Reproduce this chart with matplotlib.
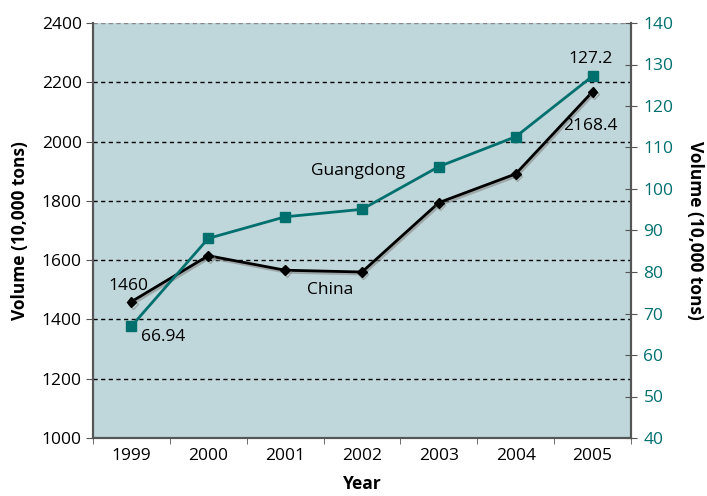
import numpy as np
import matplotlib.pyplot as plt
import matplotlib.patheffects as pe

plt.rcParams['font.family'] = ['Open Sans', 'DejaVu Sans']

# Data
years = ['1999', '2000', '2001', '2002', '2003', '2004', '2005']
china = [1460, 1615, 1566, 1560, 1794, 1891, 2168.4]
guangdong = [66.94, 88.1, 93.3, 95.1, 105.4, 112.6, 127.2]

teal = '#00706f'
bg = '#bfd6da'
spine = '#555555'
fs = 12.5

fig = plt.figure(figsize=(7.07, 4.96), dpi=100)
ax = fig.add_axes([93 / 707, 58 / 496, 538 / 707, 415 / 496])
ax2 = ax.twinx()

x = np.arange(len(years))
ax.set_facecolor(bg)

# grid lines at left ticks
for v in range(1200, 2401, 200):
    ax.axhline(v, color='black' if v < 2400 else '#888888', lw=1, ls=(0, (3, 2.5)), zorder=1)

ax.plot(x, china, color='black', lw=2, marker='D', ms=5, zorder=3,
        path_effects=[pe.SimpleLineShadow(offset=(1, -1.5), shadow_color='#888888', alpha=0.6),
                      pe.Normal()])
ax2.plot(x, guangdong, color=teal, lw=2, marker='s', ms=7, zorder=3)

ax.set_xlim(-0.5, len(years) - 0.5)
ax.set_ylim(1000, 2400)
ax2.set_ylim(40, 140)
ax.set_yticks(range(1000, 2401, 200))
ax2.set_yticks(range(40, 141, 10))

ax.set_xticks(x)
ax.set_xticklabels(years)
ax.set_xticks(np.arange(-0.5, len(years)), minor=True)
ax.tick_params(axis='x', which='major', length=0, labelsize=fs, pad=7)
ax.tick_params(axis='x', which='minor', length=4, direction='out', color=spine)
ax.tick_params(axis='y', length=5, direction='out', color=spine, labelsize=fs, pad=3)
ax2.tick_params(axis='y', length=8, direction='inout', color=spine, labelsize=fs,
                labelcolor=teal, pad=5)

for a in (ax, ax2):
    a.spines['top'].set_visible(False)
    for s in ('left', 'right', 'bottom'):
        a.spines[s].set_color(spine)
        a.spines[s].set_linewidth(1.5)

ax.set_xlabel('Year', fontsize=fs, fontweight='bold', labelpad=8)
ax.set_ylabel('Volume (10,000 tons)', fontsize=fs, fontweight='bold', labelpad=9)
ax2.set_ylabel('Volume (10,000 tons)', fontsize=fs, fontweight='bold', rotation=270, labelpad=22)

# annotations
ax.text(x[0] - 0.3, china[0] + 25, '1460', fontsize=fs, ha='left', va='bottom')
ax2.text(x[0] + 0.13, guangdong[0] - 0.6, '66.94', fontsize=fs, ha='left', va='top')
ax.text(2.95, 1900, 'Guangdong', fontsize=fs, ha='center', va='center')
ax.text(2.58, 1500, 'China', fontsize=fs, ha='center', va='center')
ax2.text(x[6] - 0.02, guangdong[6] + 2.2, '127.2', fontsize=fs, ha='center', va='bottom')
ax.text(x[6] + 0.32, 2053, '2168.4', fontsize=fs, ha='right', va='center')

fig.savefig('out.png', dpi=100)
